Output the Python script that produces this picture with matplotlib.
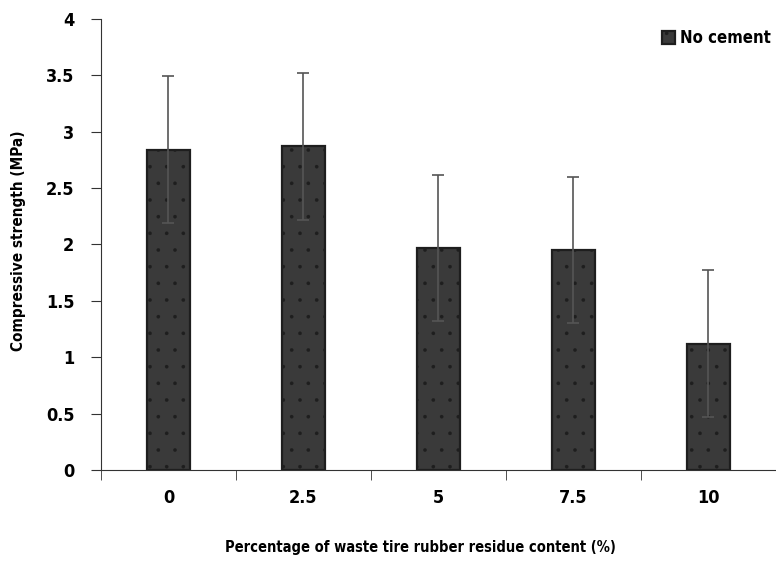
import matplotlib
matplotlib.use('Agg')
import matplotlib.pyplot as plt
import numpy as np

# 数据
categories = ['0', '2.5', '5', '7.5', '10']
strength = [2.84, 2.87, 1.97, 1.95, 1.12]
err = [0.65, 0.65, 0.65, 0.65, 0.65]

plt.rcParams['font.family'] = ['DejaVu Sans']
plt.rcParams['font.stretch'] = 'condensed'
plt.rcParams['font.weight'] = 'bold'
plt.rcParams['axes.labelweight'] = 'bold'
plt.rcParams['hatch.linewidth'] = 0.2

fig = plt.figure(figsize=(7.76, 5.61), dpi=100)
ax = fig.add_axes([0.130, 0.1622, 0.870, 0.804])

x = np.arange(len(categories))
ax.bar(x, strength, width=0.32, color='#3a3a3a', edgecolor='#1e1e1e', linewidth=1.6,
       hatch='.', label='No cement', zorder=2)
ax.errorbar(x, strength, yerr=err, fmt='none', ecolor='#555555', elinewidth=1.2,
            capsize=4, capthick=1.2, zorder=3)

ax.set_xlim(-0.5, 4.5)
ax.set_ylim(0, 4)
ax.set_yticks(np.arange(0, 4.01, 0.5))
ax.set_yticklabels(['0', '0.5', '1', '1.5', '2', '2.5', '3', '3.5', '4'])
ax.set_xticks(x)
ax.set_xticklabels(categories)
ax.set_xticks(np.arange(-0.5, 4.6, 1), minor=True)
ax.tick_params(axis='x', which='major', length=0, pad=14, labelsize=13)
ax.tick_params(axis='x', which='minor', length=7, direction='out', color='#333333')
ax.tick_params(axis='y', length=7, direction='out', labelsize=13, pad=12, color='#333333')

for s in ['top', 'right']:
    ax.spines[s].set_visible(False)
ax.spines['left'].set_color('#333333')
ax.spines['bottom'].set_color('#333333')

ax.set_xlabel('Percentage of waste tire rubber residue content (%)', fontsize=10.5, va='center')
ax.xaxis.set_label_coords(0.4726, -0.171)
ax.set_ylabel('Compressive strength (MPa)', fontsize=11, va='center')
ax.yaxis.set_label_coords(-0.1215, 0.508)

ax.legend(loc='upper right', frameon=False, fontsize=12, handlelength=0.8,
          handleheight=0.8, handletextpad=0.3, bbox_to_anchor=(1.015, 1.01))

plt.savefig('out.png', dpi=100)
